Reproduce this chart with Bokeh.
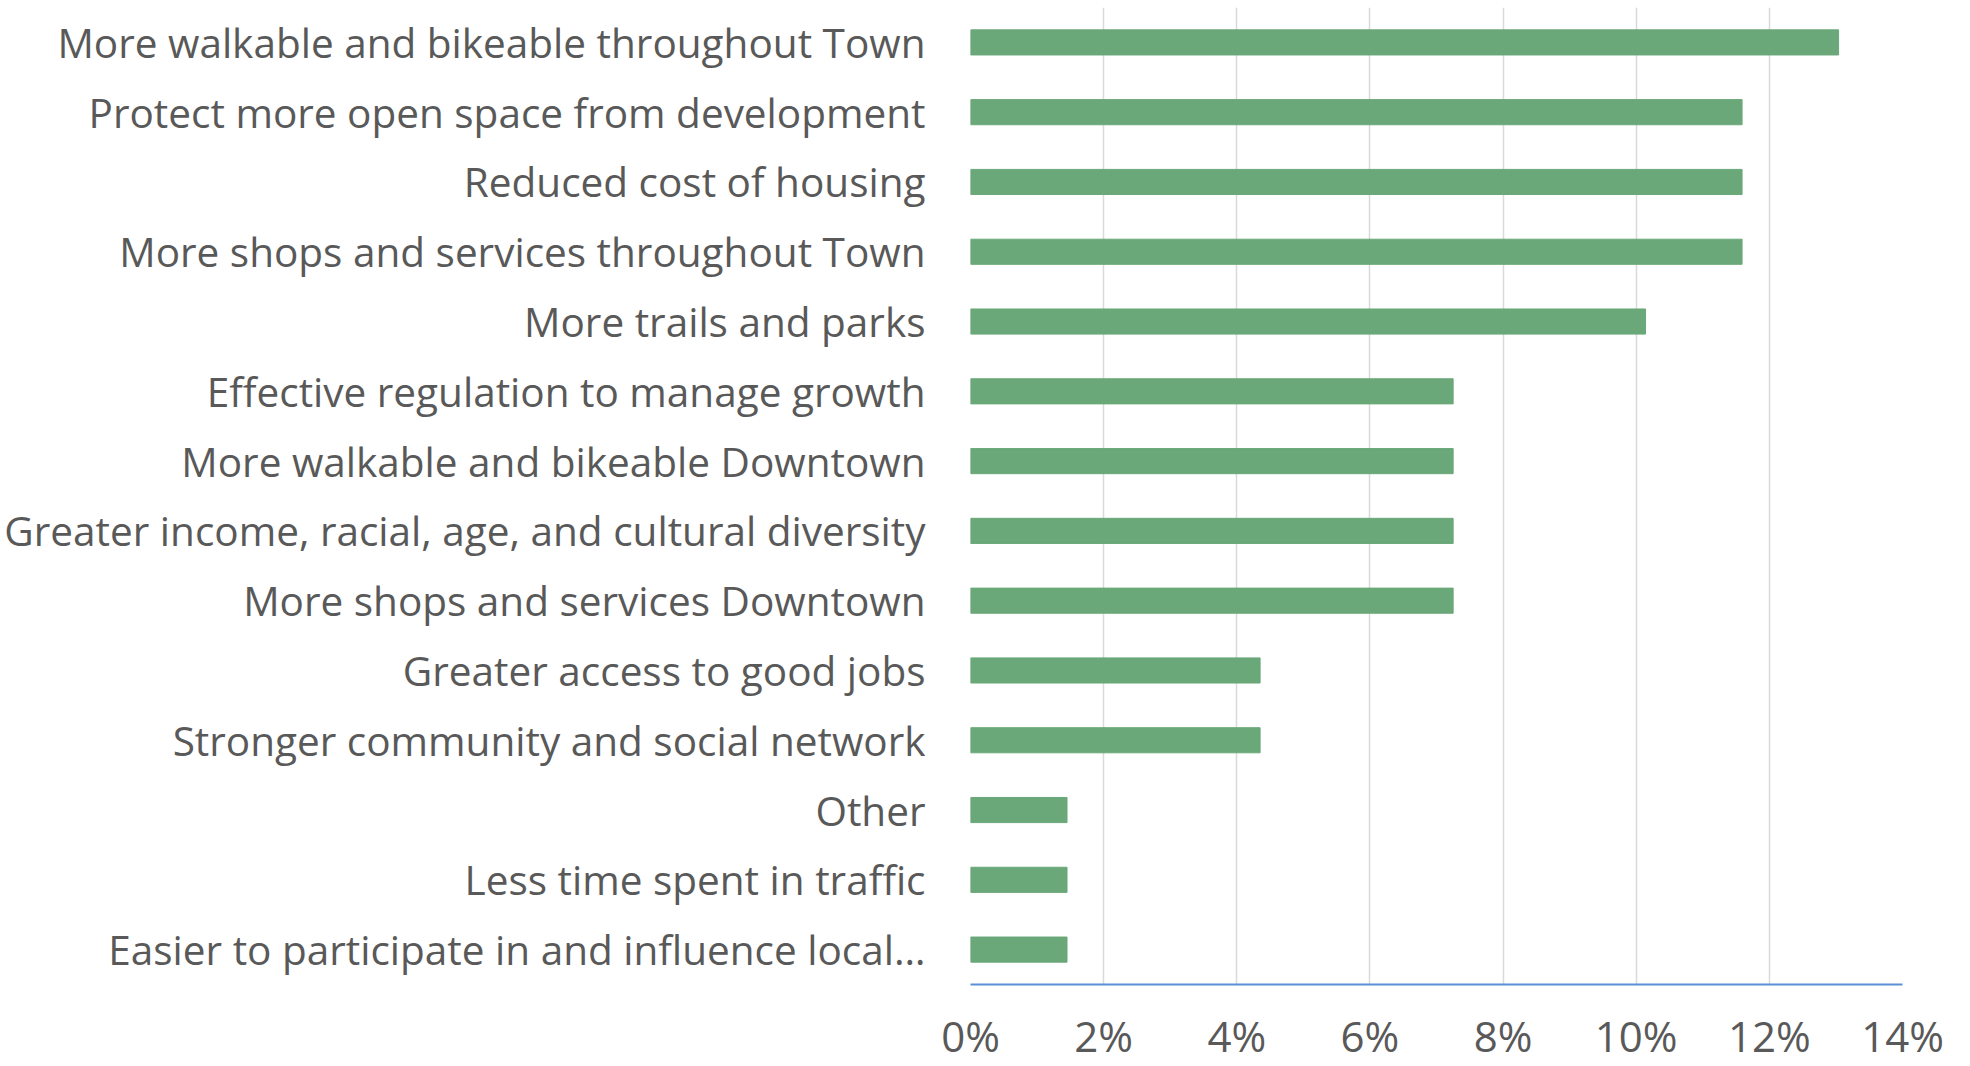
from bokeh.plotting import figure
from bokeh.models import FactorRange, Range1d, FixedTicker, PrintfTickFormatter, ColumnDataSource
from bokeh.embed import file_html
from bokeh.resources import INLINE

# Categories, top to bottom as in the chart
categories = [
    "More walkable and bikeable throughout Town",
    "Protect more open space from development",
    "Reduced cost of housing",
    "More shops and services throughout Town",
    "More trails and parks",
    "Effective regulation to manage growth",
    "More walkable and bikeable Downtown",
    "Greater income, racial, age, and cultural diversity",
    "More shops and services Downtown",
    "Greater access to good jobs",
    "Stronger community and social network",
    "Other",
    "Less time spent in traffic",
    "Easier to participate in and influence local\u2026",
]
# Share of responses, percent
values = [13.04, 11.59, 11.59, 11.59, 10.14, 7.25, 7.25, 7.25, 7.25, 4.35, 4.35, 1.45, 1.45, 1.45]
x_ticks = [0, 2, 4, 6, 8, 10, 12, 14]

source = ColumnDataSource(data=dict(cat=categories, val=values))

p = figure(
    width=1970, height=1066,
    y_range=FactorRange(factors=list(reversed(categories)), range_padding=0),
    x_range=Range1d(0, 14),
    output_backend="svg", toolbar_location=None,
    min_border_left=970, min_border_right=68, min_border_top=7, min_border_bottom=0,
)
p.hbar(y="cat", right="val", left=0, height=0.36, source=source,
       fill_color="#6AA879", line_color="#6AA879")

p.outline_line_color = None
p.background_fill_color = "white"
p.border_fill_color = "white"

p.ygrid.grid_line_color = None
p.xgrid.grid_line_color = "#D9D9D9"
p.xgrid.grid_line_width = 1.5
p.xgrid.ticker = FixedTicker(ticks=x_ticks)

xa = p.xaxis[0]
xa.ticker = FixedTicker(ticks=x_ticks)
xa.formatter = PrintfTickFormatter(format="%d%%")
xa.axis_line_color = "#5B8FD4"
xa.axis_line_width = 2
xa.major_tick_line_color = None
xa.minor_tick_line_color = None
xa.major_tick_out = 0
xa.major_tick_in = 0
xa.major_label_standoff = 22
xa.major_label_text_font = "Open Sans"
xa.major_label_text_font_size = "42px"
xa.major_label_text_color = "#595959"

ya = p.yaxis[0]
ya.axis_line_color = None
ya.major_tick_line_color = None
ya.minor_tick_line_color = None
ya.major_tick_out = 0
ya.major_tick_in = 0
ya.major_label_standoff = 45
ya.major_label_text_font = "Open Sans"
ya.major_label_text_font_size = "40.5px"
ya.major_label_text_color = "#595959"

open("out.html", "w").write(file_html(p, INLINE))
